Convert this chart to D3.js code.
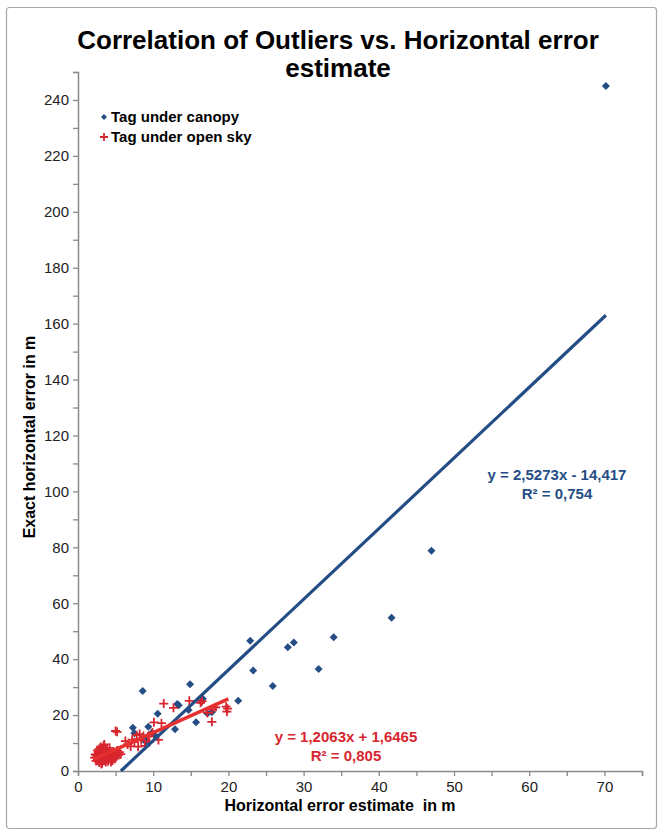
<!DOCTYPE html>
<html><head><meta charset="utf-8">
<script src="https://cdn.jsdelivr.net/npm/d3@7"></script>
<style>body{margin:0;background:#fff;} svg{display:block;font-family:"Liberation Sans",Arial,sans-serif;}</style>
</head><body>
<script>
// ---- data ----
const title = ["Correlation of Outliers vs. Horizontal error", "estimate"];
const xLabel = "Horizontal error estimate  in m";
const yLabel = "Exact horizontal error in m";
const seriesNames = ["Tag under canopy", "Tag under open sky"];
const xTicks = [0,10,20,30,40,50,60,70];
const yTicks = [0,20,40,60,80,100,120,140,160,180,200,220,240];
const canopy = [
 [7.3,15.5],[7.5,13.5],[8.6,28.6],[8.9,11.7],[9.0,10.5],[9.35,15.8],[9.8,13.7],[10.6,20.5],[10.3,12.5],
 [12.9,14.9],[13.2,24.0],[13.4,23.5],[14.7,21.8],[14.9,31.0],[15.7,17.4],[16.4,24.8],[16.6,25.8],
 [17.2,20.6],[17.8,21.0],[21.3,25.1],[22.9,46.6],[23.3,35.9],[25.9,30.4],[27.9,44.3],[28.7,46.0],
 [32.0,36.5],[34.0,47.8],[41.7,54.8],[47.0,78.8],[70.2,245]
];
const openSky = [
 [2.2,4.8],[2.4,3.6],[2.5,5.5],[2.6,4.2],[2.7,6.8],[2.8,3.0],[2.8,7.9],[2.9,5.0],[3.0,4.1],[3.0,8.6],
 [3.1,6.2],[3.2,2.8],[3.2,7.3],[3.3,5.4],[3.4,3.7],[3.4,9.0],[3.5,6.6],[3.6,4.6],[3.6,8.1],[3.7,3.2],
 [3.8,5.8],[3.8,7.6],[3.9,4.3],[4.0,6.9],[4.0,3.5],[4.1,5.2],[4.2,8.3],[4.3,4.0],[4.4,6.3],[4.5,5.0],
 [4.6,3.8],[4.7,7.0],[4.8,5.6],[4.9,4.4],[5.0,6.2],[5.1,5.1],[5.2,7.3],[5.4,5.8],[5.5,6.7],[5.7,6.0],
 [2.3,5.9],[2.6,7.4],[3.5,9.5],[3.1,2.5],[4.4,3.2],[3.9,7.0],[2.9,6.1],[4.6,5.9],
 [5.0,14.3],[5.2,14.0],[6.3,10.7],[6.6,9.5],[7.0,8.8],[7.2,11.2],[7.5,10.3],[7.8,12.8],[8.0,8.7],
 [8.2,13.2],[8.4,11.0],[8.7,12.5],[8.9,9.0],[9.3,12.3],[9.5,10.4],[9.9,13.8],[10.1,17.4],[10.7,11.1],
 [11.1,17.1],[11.4,24.1],[12.7,22.6],[14.8,25.1],[16.3,24.4],[16.5,25.0],[17.2,20.8],[17.8,17.6],
 [17.9,22.0],[18.3,22.8],[19.7,23.0],[19.8,21.2],[19.9,22.3]
];
const trendCanopy = {slope:2.5273, intercept:-14.417, x0:5.705, x1:70.2, label:["y = 2,5273x - 14,417","R\u00B2 = 0,754"]};
const trendSky = {slope:1.2063, intercept:1.6465, x0:2.0, x1:20.0, label:["y = 1,2063x + 1,6465","R\u00B2 = 0,805"]};

const blue = "#254d85", red = "#d8262f", redLine = "#e5302f", axisCol = "#8a8a8a";

const W = 664, H = 836;
const svg = d3.select("body").append("svg").attr("width", W).attr("height", H);
svg.append("rect").attr("x",6.5).attr("y",7.5).attr("width",650).attr("height",821)
  .attr("rx",3).attr("fill","#fff").attr("stroke","#a6a6a6").attr("stroke-width",1.2);

const x = d3.scaleLinear().domain([0,75]).range([78,642]);
const y = d3.scaleLinear().domain([0,250]).range([771,72]);

// title
svg.append("g").selectAll("text").data(title).join("text")
  .attr("x",338).attr("y",(d,i)=>49+i*28).attr("text-anchor","middle")
  .attr("font-size",26).attr("font-weight","bold").attr("fill","#000").text(d=>d);

// axes
const yAxis = svg.append("g").attr("transform",`translate(${x(0)},0)`)
  .call(d3.axisLeft(y).tickValues(d3.range(0,251,10)).tickSize(5).tickFormat(d=>yTicks.includes(d)?d:""));
const xAxis = svg.append("g").attr("transform",`translate(0,${y(0)})`)
  .call(d3.axisBottom(x).tickValues(d3.range(0,76,5)).tickSize(5).tickFormat(d=>xTicks.includes(d)?d:""));
[yAxis,xAxis].forEach(g=>{
  g.select(".domain").attr("stroke",axisCol).attr("stroke-width",1.5);
  g.selectAll(".tick line").attr("stroke",axisCol).attr("stroke-width",1.3);
  g.selectAll("text").attr("font-size",15).attr("fill","#222").attr("font-family","Liberation Sans, Arial, sans-serif");
});
yAxis.selectAll("text").attr("x",-9);
xAxis.selectAll("text").attr("y",10);

// axis labels
svg.append("text").attr("x",340).attr("y",811).attr("text-anchor","middle")
  .attr("font-size",16).attr("font-weight","bold").style("white-space","pre").text(xLabel);
svg.append("text").attr("transform","translate(35,437) rotate(-90)").attr("text-anchor","middle")
  .attr("font-size",16).attr("font-weight","bold").text(yLabel);

// points
const diamond = s => `M0,${-s}L${s},0L0,${s}L${-s},0Z`;
svg.append("g").selectAll("path").data(canopy).join("path")
  .attr("transform",d=>`translate(${x(d[0])},${y(d[1])})`).attr("d",diamond(4)).attr("fill",blue);
const plus = s => `M${-s},0H${s}M0,${-s}V${s}`;
svg.append("g").selectAll("path").data(openSky).join("path")
  .attr("transform",d=>`translate(${x(d[0])},${y(d[1])})`).attr("d",plus(4.5))
  .attr("stroke",red).attr("stroke-width",1.8).attr("fill","none");

// trendlines
function trend(t,col,w){
  svg.append("line").attr("x1",x(t.x0)).attr("y1",y(t.slope*t.x0+t.intercept))
    .attr("x2",x(t.x1)).attr("y2",y(t.slope*t.x1+t.intercept))
    .attr("stroke",col).attr("stroke-width",w);
}
trend(trendCanopy,blue,3.2);
trend(trendSky,redLine,3.5);

// equations
function eq(t,cx,by,col){
  svg.append("g").selectAll("text").data(t.label).join("text")
    .attr("x",cx).attr("y",(d,i)=>by+i*19).attr("text-anchor","middle")
    .attr("font-size",15).attr("font-weight","bold").attr("fill",col).text(d=>d);
}
eq(trendCanopy,557,480,blue);
eq(trendSky,346,742,red);

// legend
const leg = svg.append("g");
leg.append("path").attr("transform","translate(104,117)").attr("d",diamond(3)).attr("fill",blue);
leg.append("path").attr("transform","translate(104,137)").attr("d",plus(4)).attr("stroke",red).attr("stroke-width",1.8);
leg.selectAll("text").data(seriesNames).join("text")
  .attr("x",111).attr("y",(d,i)=>122+i*20).attr("font-size",15).attr("font-weight","bold").text(d=>d);
</script>
</body></html>
